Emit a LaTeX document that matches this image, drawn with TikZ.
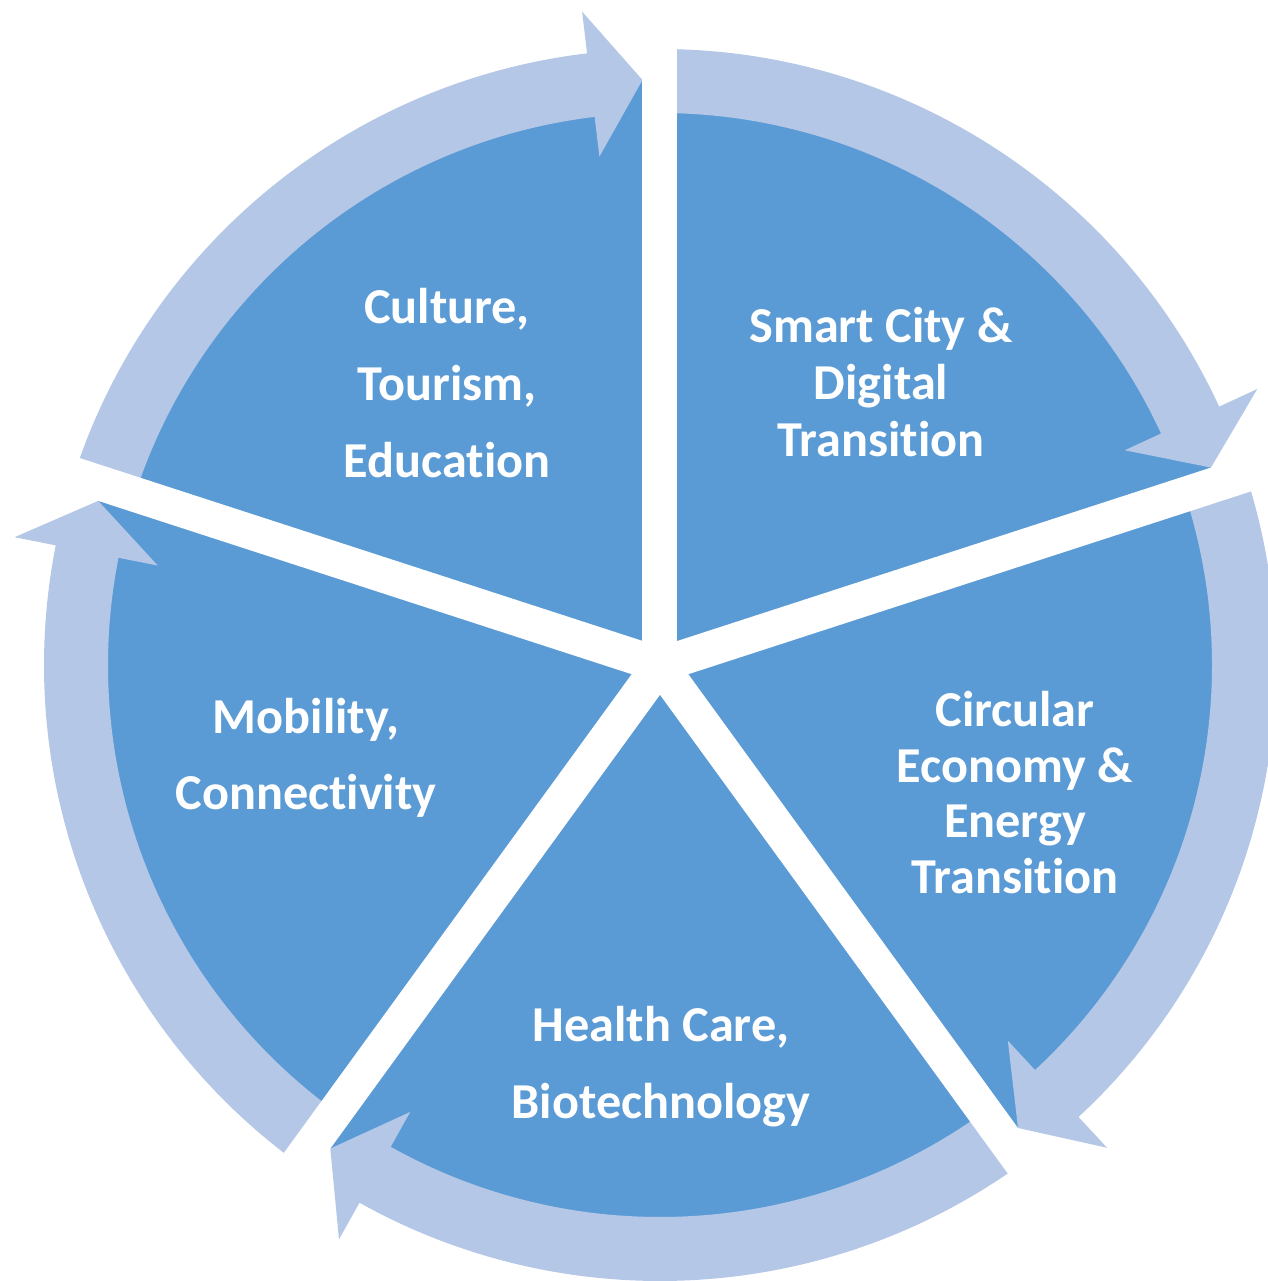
\documentclass[tikz,border=0pt]{standalone}
\usepackage{fontspec}
\setmainfont[Ligatures=NoCommon]{Carlito}
\usetikzlibrary{calc}
\definecolor{segblue}{HTML}{5B9BD5}
\definecolor{ringblue}{HTML}{B4C7E7}
\tikzset{lbl/.style={text=white,align=center,font=\bfseries\fontsize{14.3}{#1}\selectfont}}
\begin{document}
\begin{tikzpicture}
            \useasboundingbox (-6.60,-6.16) rectangle (6.08,6.65);
            \fill[segblue] (0,0) circle (5.85);
            % ring arrows, each one ends at gap \a
            \foreach \a in {90,18,-54,-126,162}
                \fill[ringblue] (\a+72:5.52) arc[start angle=\a+72, end angle=\a+6.8, radius=5.52]
                    -- (\a+6.8:5.12) -- ($(\a:5.85)+(\a+90:0.175)$) -- (\a+6.8:6.58) -- (\a+6.8:6.16)
                    arc[start angle=\a+6.8, end angle=\a+72, radius=6.16] -- cycle;
            % white gaps between the segments
            \foreach \a in {90,18,-54,-126,162}
                \draw[white,line width=0.35cm] (0,0) -- (\a:6.3);
            \node[lbl=21.9] (culture) at (-2.13,2.82) {Culture,\\Tourism,\\Education};
            \node[lbl=16.2] (smartcity) at (2.21,2.83) {Smart City \&\\Digital\\Transition};
            \node[lbl=15.8] (circular) at (3.55,-1.275) {Circular\\Economy \&\\Energy\\Transition};
            \node[lbl=22.1] (health) at (0.01,-4.015) {Health Care,\\Biotechnology};
            \node[lbl=21.6] (mobility) at (-3.54,-0.925) {Mobility,\\Connectivity};
        \end{tikzpicture}
\end{document}
